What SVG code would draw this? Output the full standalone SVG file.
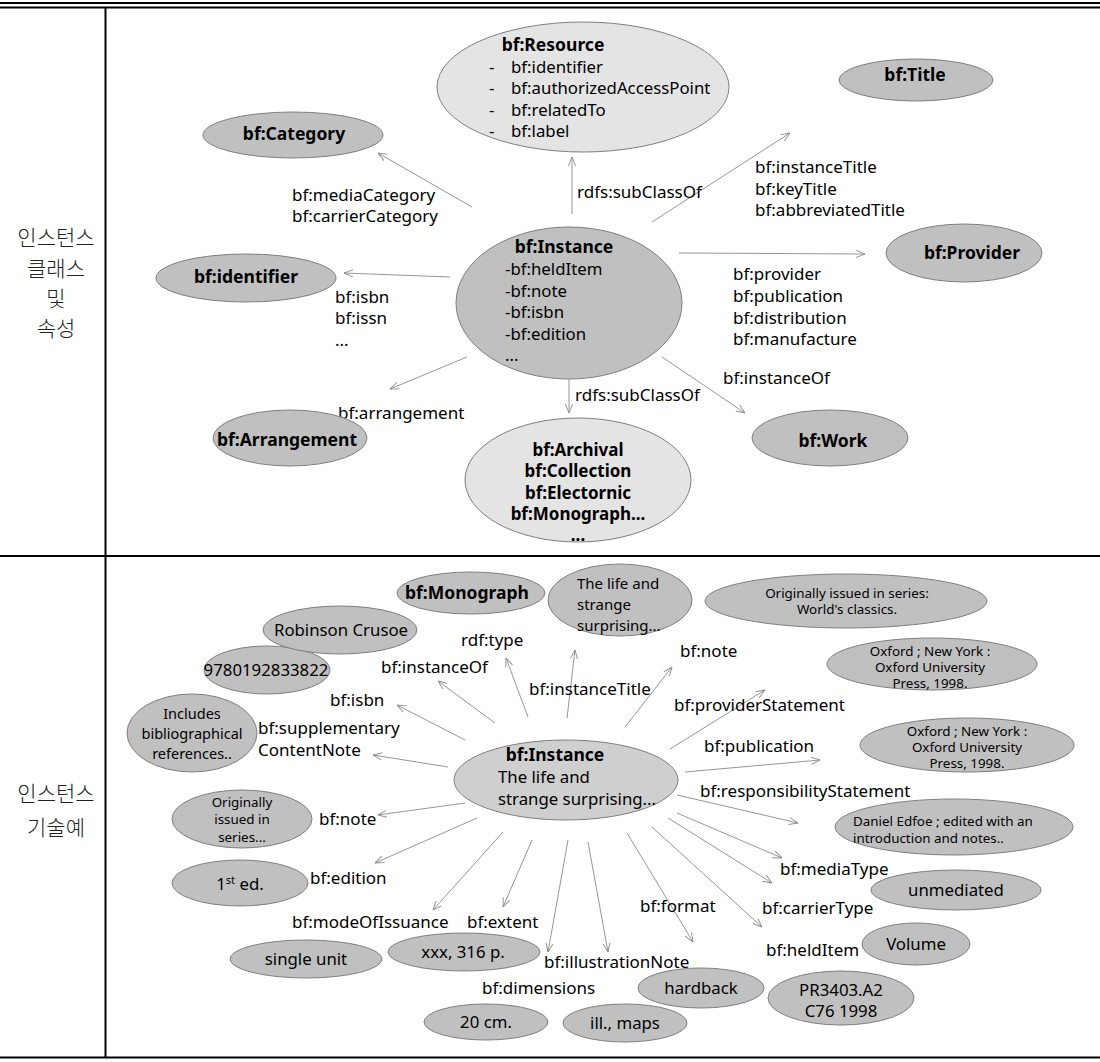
<svg xmlns="http://www.w3.org/2000/svg" width="1100" height="1062" viewBox="0 0 1100 1062">
<defs>
<marker id="arr" viewBox="0 0 10 10" refX="10" refY="5" markerWidth="9" markerHeight="9" markerUnits="userSpaceOnUse" orient="auto">
<path d="M0,1 L10,5 L0,9" fill="none" stroke="#8a8a8a" stroke-width="1"/>
</marker>
<style>
.tbl{stroke:#000;stroke-width:2;fill:none}
.kr{font-family:"Noto Sans CJK KR",sans-serif;font-size:21px;fill:#222;text-anchor:middle;font-weight:300}
.n{fill:#c0c0c0;stroke:#7f7f7f;stroke-width:1}
.nl{fill:#e4e4e4;stroke:#7f7f7f;stroke-width:1}
.nm{fill:#cfcfcf;stroke:#7f7f7f;stroke-width:1}
text{font-family:"Noto Sans","Open Sans",sans-serif;fill:#000}
.b{font-weight:bold;font-size:17.5px;text-anchor:middle}
.bs{font-weight:bold;font-size:17px;text-anchor:middle}
.t{font-size:16.8px}
.c{font-size:16.8px;text-anchor:middle}
.cm{font-size:14.5px;text-anchor:middle}
.tm{font-size:15px}
.s{font-size:13.4px;text-anchor:middle}
.sl{font-size:13.4px}
.lb{font-size:17px}
.e{stroke:#8a8a8a;stroke-width:0.9;fill:none;marker-end:url(#arr)}
</style>
</defs>

<g id="table">
<line class="tbl" x1="0" y1="3" x2="1100" y2="3" stroke-width="1.5"/>
<line class="tbl" x1="0" y1="7.5" x2="1100" y2="7.5" stroke-width="1.5"/>
<line class="tbl" x1="105.5" y1="7" x2="105.5" y2="1058"/>
<line class="tbl" x1="0" y1="556" x2="1100" y2="556"/>
<line class="tbl" x1="0" y1="1057.5" x2="1100" y2="1057.5" stroke-width="2.5"/>
<text class="kr" x="56" y="245">인스턴스</text>
<text class="kr" x="56" y="276">클래스</text>
<text class="kr" x="56" y="306">및</text>
<text class="kr" x="56" y="336">속성</text>
<text class="kr" x="56" y="801">인스턴스</text>
<text class="kr" x="56" y="835">기술예</text>
</g>

<g id="connectors">
<line class="e" x1="472" y1="207" x2="378" y2="153"/>
<line class="e" x1="572" y1="214" x2="572" y2="157"/>
<line class="e" x1="652" y1="222" x2="790" y2="133"/>
<line class="e" x1="679" y1="253" x2="865" y2="254"/>
<line class="e" x1="450" y1="277" x2="344" y2="273"/>
<line class="e" x1="467" y1="357" x2="390" y2="389"/>
<line class="e" x1="569" y1="375" x2="569" y2="413"/>
<line class="e" x1="662" y1="357" x2="745" y2="413"/>

<line class="e" x1="528" y1="717" x2="506" y2="658"/>
<line class="e" x1="495" y1="723" x2="438" y2="681"/>
<line class="e" x1="465" y1="740" x2="397" y2="705"/>
<line class="e" x1="448" y1="767" x2="373" y2="755"/>
<line class="e" x1="465" y1="803" x2="378" y2="815"/>
<line class="e" x1="477" y1="818" x2="375" y2="863"/>
<line class="e" x1="503" y1="832" x2="433" y2="910"/>
<line class="e" x1="532" y1="840" x2="503" y2="907"/>
<line class="e" x1="568" y1="840" x2="548" y2="952"/>
<line class="e" x1="588" y1="842" x2="608" y2="952"/>
<line class="e" x1="627" y1="833" x2="693" y2="942"/>
<line class="e" x1="652" y1="827" x2="762" y2="927"/>
<line class="e" x1="668" y1="818" x2="772" y2="883"/>
<line class="e" x1="677" y1="813" x2="782" y2="858"/>
<line class="e" x1="677" y1="795" x2="798" y2="823"/>
<line class="e" x1="685" y1="772" x2="820" y2="760"/>
<line class="e" x1="670" y1="749" x2="765" y2="690"/>
<line class="e" x1="625" y1="727" x2="672" y2="667"/>
<line class="e" x1="567" y1="718" x2="575" y2="650"/>

<text class="lb" x="292" y="201">bf:mediaCategory</text>
<text class="lb" x="292" y="222">bf:carrierCategory</text>
<text class="lb" x="577" y="198">rdfs:subClassOf</text>
<text class="lb" x="755" y="173">bf:instanceTitle</text>
<text class="lb" x="755" y="195">bf:keyTitle</text>
<text class="lb" x="755" y="216">bf:abbreviatedTitle</text>
<text class="lb" x="335" y="303">bf:isbn</text>
<text class="lb" x="335" y="324">bf:issn</text>
<text class="lb" x="335" y="346">...</text>
<text class="lb" x="733" y="280">bf:provider</text>
<text class="lb" x="733" y="302">bf:publication</text>
<text class="lb" x="733" y="324">bf:distribution</text>
<text class="lb" x="733" y="345">bf:manufacture</text>
<text class="lb" x="723" y="384">bf:instanceOf</text>
<text class="lb" x="338" y="419">bf:arrangement</text>
<text class="lb" x="575" y="401">rdfs:subClassOf</text>

<text class="lb" x="461" y="646">rdf:type</text>
<text class="lb" x="381" y="673">bf:instanceOf</text>
<text class="lb" x="330" y="706">bf:isbn</text>
<text class="lb" x="258" y="734">bf:supplementary</text>
<text class="lb" x="258" y="756">ContentNote</text>
<text class="lb" x="319" y="825">bf:note</text>
<text class="lb" x="310" y="884">bf:edition</text>
<text class="lb" x="292" y="928">bf:modeOfIssuance</text>
<text class="lb" x="467" y="928">bf:extent</text>
<text class="lb" x="544" y="968">bf:illustrationNote</text>
<text class="lb" x="482" y="994">bf:dimensions</text>
<text class="lb" x="640" y="912">bf:format</text>
<text class="lb" x="766" y="956">bf:heldItem</text>
<text class="lb" x="762" y="914">bf:carrierType</text>
<text class="lb" x="780" y="875">bf:mediaType</text>
<text class="lb" x="700" y="797">bf:responsibilityStatement</text>
<text class="lb" x="704" y="752">bf:publication</text>
<text class="lb" x="674" y="711">bf:providerStatement</text>
<text class="lb" x="680" y="657">bf:note</text>
<text class="lb" x="529" y="695">bf:instanceTitle</text>
</g>

<g id="n-resource">
<ellipse class="nl" cx="583" cy="87" rx="146" ry="65"/>
<text class="b" x="553" y="51">bf:Resource</text>
<text class="t" x="489" y="73">-</text><text class="t" x="511" y="73">bf:identifier</text>
<text class="t" x="489" y="94">-</text><text class="t" x="511" y="94">bf:authorizedAccessPoint</text>
<text class="t" x="489" y="116">-</text><text class="t" x="511" y="116">bf:relatedTo</text>
<text class="t" x="489" y="137">-</text><text class="t" x="511" y="137">bf:label</text>
</g>
<g id="n-title"><ellipse class="n" cx="916" cy="80" rx="77" ry="21"/><text class="b" x="915" y="81">bf:Title</text></g>
<g id="n-category"><ellipse class="n" cx="293" cy="135" rx="90" ry="23"/><text class="b" x="294" y="140">bf:Category</text></g>
<g id="n-identifier"><ellipse class="n" cx="246" cy="278" rx="90" ry="24"/><text class="b" x="246" y="283">bf:identifier</text></g>
<g id="n-arrangement"><ellipse class="n" cx="290" cy="438" rx="77" ry="28"/><text class="b" x="287" y="446">bf:Arrangement</text></g>
<g id="n-provider"><ellipse class="n" cx="964" cy="253" rx="78" ry="29"/><text class="b" x="972" y="259">bf:Provider</text></g>
<g id="n-work"><ellipse class="n" cx="830" cy="438" rx="78" ry="28"/><text class="b" x="833" y="447">bf:Work</text></g>
<g id="n-instance">
<ellipse class="n" cx="569" cy="303" rx="113" ry="76"/>
<text class="b" x="564" y="253">bf:Instance</text>
<text class="t" x="505" y="275">-bf:heldItem</text>
<text class="t" x="505" y="297">-bf:note</text>
<text class="t" x="505" y="318">-bf:isbn</text>
<text class="t" x="505" y="340">-bf:edition</text>
<text class="t" x="505" y="361">...</text>
</g>
<g id="n-subclasses">
<ellipse class="nl" cx="578" cy="480" rx="113" ry="62"/>
<text class="bs" x="578" y="456">bf:Archival</text>
<text class="bs" x="578" y="477">bf:Collection</text>
<text class="bs" x="578" y="499">bf:Electornic</text>
<text class="bs" x="578" y="520">bf:Monograph...</text>
<text class="bs" x="578" y="541">...</text>
</g>

<g id="m-instance">
<ellipse class="nm" cx="566" cy="780" rx="112" ry="40"/>
<text class="b" x="555" y="761">bf:Instance</text>
<text class="t" x="498" y="783">The life and</text>
<text class="t" x="498" y="805">strange surprising...</text>
</g>
<g id="m-monograph"><ellipse class="n" cx="471" cy="593" rx="74" ry="21"/><text class="b" x="467" y="599">bf:Monograph</text></g>
<g id="m-title"><ellipse class="n" cx="620" cy="600" rx="72" ry="36"/>
<text class="tm" x="577" y="589">The life and</text><text class="tm" x="577" y="610">strange</text><text class="tm" x="577" y="631">surprising...</text></g>
<g id="m-note1"><ellipse class="n" cx="846" cy="601" rx="141" ry="27"/>
<text class="s" x="847" y="598">Originally issued in series:</text><text class="s" x="847" y="614">World's classics.</text></g>
<g id="m-provstmt"><ellipse class="n" cx="932" cy="664" rx="105" ry="26"/>
<text class="s" x="930" y="656">Oxford ; New York :</text><text class="s" x="930" y="672">Oxford University</text><text class="s" x="930" y="688">Press, 1998.</text></g>
<g id="m-publication"><ellipse class="n" cx="967" cy="745" rx="107" ry="27"/>
<text class="s" x="967" y="736">Oxford ; New York :</text><text class="s" x="967" y="752">Oxford University</text><text class="s" x="967" y="768">Press, 1998.</text></g>
<g id="m-resp"><ellipse class="n" cx="954" cy="827" rx="119" ry="28"/>
<text class="sl" x="853" y="826">Daniel Edfoe ; edited with an</text><text class="sl" x="853" y="843">introduction and notes..</text></g>
<g id="m-media"><ellipse class="n" cx="956" cy="890" rx="85" ry="20"/><text class="c" x="956" y="896">unmediated</text></g>
<g id="m-carrier"><ellipse class="n" cx="916" cy="944" rx="54" ry="21"/><text class="c" x="916" y="950">Volume</text></g>
<g id="m-helditem"><ellipse class="n" cx="841" cy="998" rx="73" ry="27"/>
<text class="c" x="841" y="996">PR3403.A2</text><text class="c" x="841" y="1017">C76 1998</text></g>
<g id="m-format"><ellipse class="n" cx="701" cy="988" rx="63" ry="20"/><text class="c" x="701" y="994">hardback</text></g>
<g id="m-illus"><ellipse class="n" cx="625" cy="1023" rx="62" ry="19"/><text class="c" x="625" y="1029">ill., maps</text></g>
<g id="m-dim"><ellipse class="n" cx="486" cy="1022" rx="62" ry="18"/><text class="c" x="486" y="1028">20 cm.</text></g>
<g id="m-extent"><ellipse class="n" cx="464" cy="952" rx="76" ry="19"/><text class="c" x="463" y="958">xxx, 316 p.</text></g>
<g id="m-mode"><ellipse class="n" cx="306" cy="959" rx="76" ry="19"/><text class="c" x="306" y="965">single unit</text></g>
<g id="m-edition"><ellipse class="n" cx="240" cy="883" rx="68" ry="23"/><text class="c" x="240" y="890">1<tspan font-size="11" dy="-6">st</tspan><tspan dy="6"> ed.</tspan></text></g>
<g id="m-note2"><ellipse class="n" cx="242" cy="819" rx="70" ry="29"/>
<text class="s" x="242" y="807">Originally</text><text class="s" x="242" y="824">issued in</text><text class="s" x="242" y="842">series...</text></g>
<g id="m-supp"><ellipse class="n" cx="192" cy="733" rx="65" ry="39"/>
<text class="cm" x="192" y="719">Includes</text><text class="cm" x="192" y="739">bibliographical</text><text class="cm" x="192" y="759">references..</text></g>
<g id="m-isbn"><ellipse class="n" cx="267" cy="670" rx="63" ry="24"/><text class="c" x="266" y="676">9780192833822</text></g>
<g id="m-work"><ellipse class="n" cx="340" cy="630" rx="77" ry="24"/><text class="c" x="341" y="636">Robinson Crusoe</text></g>
</svg>
